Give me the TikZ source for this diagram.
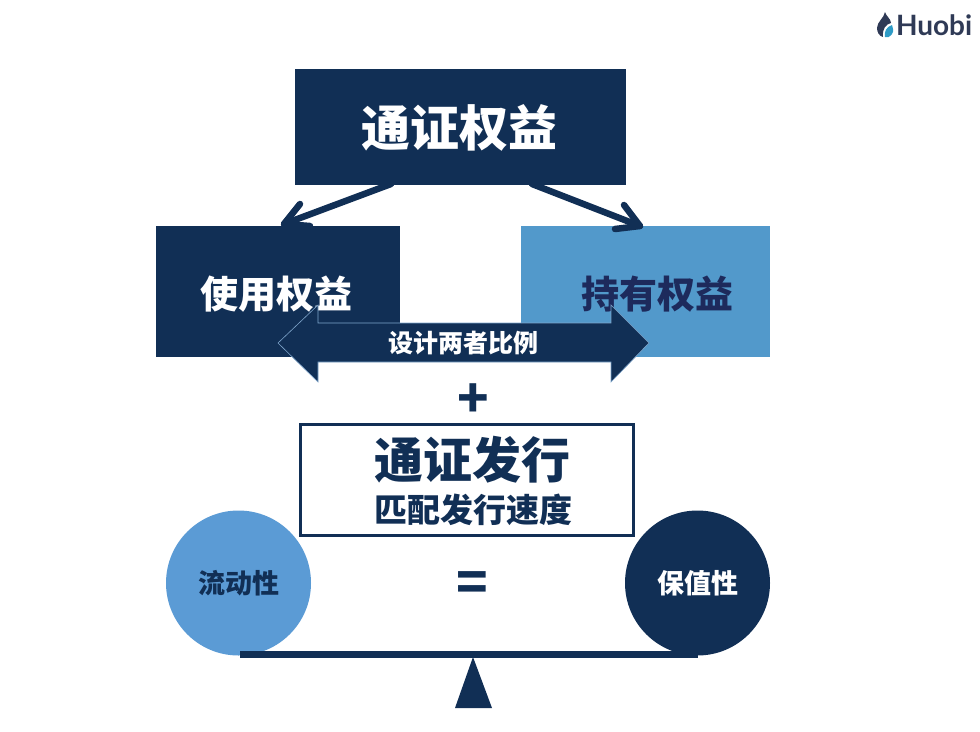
\documentclass[tikz,border=0pt]{standalone}
\usepackage{fontspec}
\newfontfamily\cjk{Noto Sans CJK SC}
\newfontfamily\logofont{Lato}
\definecolor{navy}{HTML}{112F55}
\definecolor{sky}{HTML}{5299CB}
\definecolor{ball}{HTML}{5B9BD5}
\definecolor{inkb}{HTML}{1D2A5C}
\definecolor{edge}{HTML}{7FA6CC}
\definecolor{logod}{HTML}{2F3A56}
\definecolor{logot}{HTML}{2E9BC6}
\tikzset{
  x=1pt,y=-1pt,
  every node/.style={font=\cjk\bfseries,inner sep=0pt,outer sep=0pt},
  branch/.style={draw=navy,line width=6.5pt,line cap=round,line join=round},
}
\begin{document}
\begin{tikzpicture}
\useasboundingbox[fill=white] (0,0) rectangle (980,731);
% boxes
\node[fill=navy,minimum width=331pt,minimum height=116pt] (top) at (460.5,127) {};
\node[fill=navy,minimum width=244pt,minimum height=131pt] (use) at (278,291.5) {};
\node[fill=sky,minimum width=249pt,minimum height=131pt] (hold) at (645.5,291.5) {};
\node[text=white,font=\cjk\bfseries\fontsize{49}{49}\selectfont] (t1) at (459.5,128) {通证权益};
\node[text=white,font=\cjk\bfseries\fontsize{38}{38}\selectfont] (t2) at (276,294) {使用权益};
\node[text=inkb,font=\cjk\bfseries\fontsize{38}{38}\selectfont] (t3) at (657,294) {持有权益};
% branch arrows
\coordinate (ls) at (391,184);
\coordinate (lt) at (284,224);
\coordinate (lb1) at (300,204);
\coordinate (lb2) at (310,226);
\coordinate (rs) at (532,184);
\coordinate (rt) at (640,226);
\coordinate (rb1) at (624,205);
\coordinate (rb2) at (615,229);
\draw[branch] (ls) -- (lt);
\draw[branch] (lb1) -- (lt) -- (lb2);
\draw[branch] (rs) -- (rt);
\draw[branch] (rb1) -- (rt) -- (rb2);
% double arrow
\path[fill=navy,draw=edge,line width=0.6pt]
  (278,343) -- (318,305) -- (318,323) -- (611,323) -- (611,305) -- (649,343)
  -- (611,382) -- (611,362) -- (318,362) -- (318,382) -- cycle;
\node[text=white,font=\cjk\bfseries\fontsize{25}{25}\selectfont] (ratio) at (463.5,343) {设计两者比例};
% plus
\node[text=navy,font=\cjk\bfseries\fontsize{52}{52}\selectfont] (plus) at (473,400.5) {+};
% issue box
\node[draw=navy,line width=2.5pt,fill=white,minimum width=333pt,minimum height=111pt] (issue) at (467,480) {};
\node[text=navy,font=\cjk\bfseries\fontsize{49}{49}\selectfont] (i1) at (472.5,459.5) {通证发行};
\node[text=navy,font=\cjk\bfseries\fontsize{33}{33}\selectfont] (i2) at (473.5,510) {匹配发行速度};
% balance
\node[circle,fill=ball,minimum size=145pt] (liq) at (238.5,583) {};
\node[circle,fill=navy,minimum size=145pt] (val) at (697.5,583) {};
\node[text=navy,font=\cjk\bfseries\fontsize{27}{27}\selectfont] (liqt) at (238.5,583) {流动性};
\node[text=white,font=\cjk\bfseries\fontsize{27}{27}\selectfont] (valt) at (697.5,583) {保值性};
\node[text=navy,font=\cjk\bfseries\fontsize{52}{52}\selectfont] (eq) at (472.5,586.5) {=};
\fill[navy] (240,651) rectangle (698,658);
\fill[navy] (473,657) -- (492,708) -- (455,708) -- cycle;
% logo
\fill[logod] (885,12) .. controls (886,16) and (891,19) .. (891,23) .. controls (886,24) and (882,29) .. (883,37) .. controls (879,36) and (877,32) .. (877,28) .. controls (877,22) and (884,18) .. (885,12) -- cycle;
\fill[logot] (892,25) .. controls (893,28) and (894,31) .. (892,34) .. controls (890,37) and (887,38) .. (885,37) .. controls (884,32) and (886,27) .. (892,25) -- cycle;
\node[text=logod,anchor=base west,font=\logofont\bfseries\fontsize{28}{28}\selectfont] (logo) at (896,35) {Huobi};
\end{tikzpicture}
\end{document}
